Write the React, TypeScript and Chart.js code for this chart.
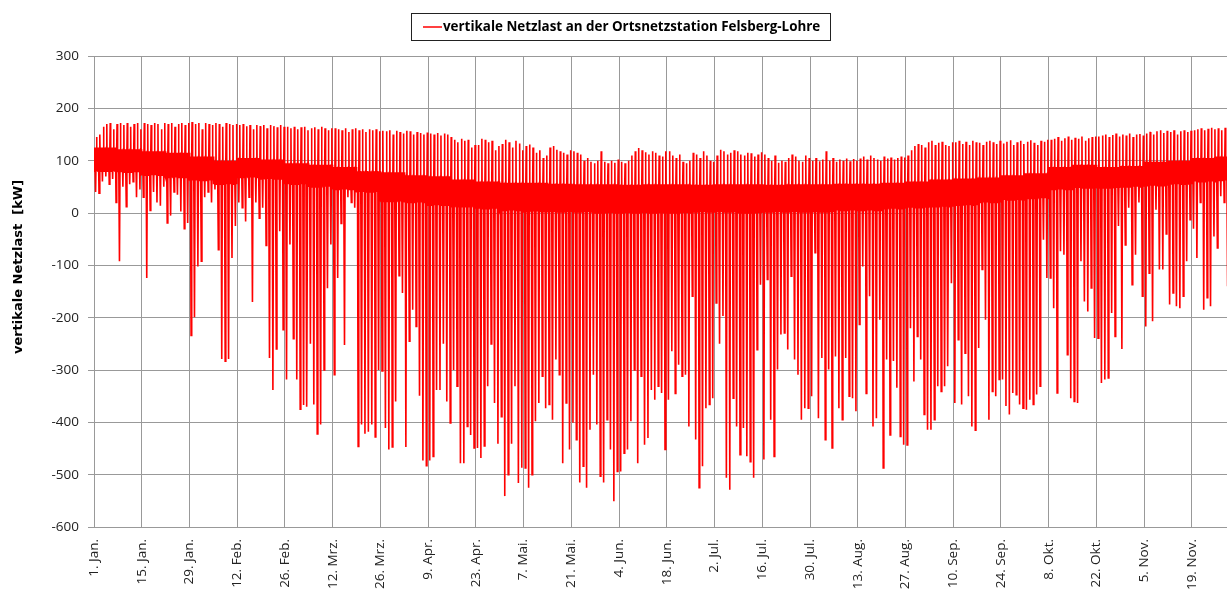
import React, { useEffect, useRef } from 'react';
import { Chart, registerables } from 'chart.js';

Chart.register(...registerables);

const seriesLabel = 'vertikale Netzlast an der Ortsnetzstation Felsberg-Lohre';
const yAxisTitle = 'vertikale Netzlast  [kW]';

// x-axis tick labels, one every 14 days starting 1 Jan
const tickLabels = [
  '1. Jan.', '15. Jan.', '29. Jan.', '12. Feb.', '26. Feb.', '12. Mrz.', '26. Mrz.', '9. Apr.',
  '23. Apr.', '7. Mai.', '21. Mai.', '4. Jun.', '18. Jun.', '2. Jul.', '16. Jul.', '30. Jul.',
  '13. Aug.', '27. Aug.', '10. Sep.', '24. Sep.', '8. Okt.', '22. Okt.', '5. Nov.', '19. Nov.',
];
const daysPerTick = 14;
const visibleDays = 332.3;

// daily minimum (midday PV feed-in) [kW], read per day
const dailyMin = [
  40, 38, 60, 70, 55, 65, 20, -92, 50, 12, 55, 60, 30, 45,
  30, -124, 5, 40, 20, 14, 50, -19, -5, 40, 35, 3, -30, -19,
  -234, -199, -102, -92, 30, 40, 20, 45, -70, -279, -283, -279, -86, -25,
  20, 10, -16, 30, -170, 20, -10, 10, -62, -277, -338, -260, -35, -223,
  -318, -60, -240, -318, -375, -367, -370, -250, -366, -422, -404, -300, -144, -60,
  -309, -124, -20, -252, 30, 20, 10, -446, -404, -422, -418, -404, -428, -300,
  -302, -411, -452, -447, -360, -120, -153, -447, -245, -185, -217, -349, -473, -483,
  -473, -465, -338, -338, -250, -360, -401, -300, -331, -478, -478, -408, -424, -449,
  -449, -468, -445, -331, -250, -363, -441, -389, -541, -500, -441, -331, -516, -487,
  -487, -525, -500, -398, -363, -312, -373, -366, -395, -280, -309, -478, -363, -452,
  -401, -433, -515, -484, -525, -414, -309, -404, -503, -515, -395, -452, -551, -494,
  -494, -459, -452, -398, -300, -478, -312, -443, -430, -338, -357, -331, -344, -452,
  -357, -264, -345, -290, -312, -309, -408, -159, -433, -525, -484, -373, -366, -354,
  -172, -250, -197, -506, -529, -354, -408, -462, -411, -465, -475, -506, -261, -137,
  -471, -127, -395, -465, -299, -232, -229, -261, -121, -280, -309, -395, -373, -373,
  -350, -76, -392, -277, -433, -299, -449, -274, -373, -395, -277, -350, -354, -379,
  -213, -102, -345, -159, -408, -392, -204, -487, -280, -424, -283, -334, -427, -443,
  -443, -220, -322, -236, -280, -385, -414, -414, -395, -331, -341, -331, -293, -134,
  -363, -242, -366, -268, -350, -408, -415, -258, -108, -204, -395, -341, -350, -318,
  -318, -369, -385, -344, -347, -366, -373, -376, -357, -366, -347, -331, -51, -124,
  -124, -182, -344, -73, -80, -271, -354, -360, -363, -92, -169, -188, -143, -239,
  -239, -325, -318, -315, -191, -236, -25, -260, -61, 10, -137, -80, 20, -159,
  -217, -115, -207, 6, -108, -108, -40, -175, -153, -178, -182, -159, -92, -13,
  -30, -86, 20, -185, -162, -178, -45, -67, 32, 20, -140, -100,
];

// daily maximum (evening peak) [kW], read per day
const dailyMax = [
  145, 150, 165, 170, 172, 160, 170, 172, 168, 172, 165, 170, 172, 160,
  172, 170, 168, 172, 170, 160, 172, 170, 172, 165, 170, 172, 168, 172,
  174, 170, 172, 160, 172, 170, 168, 172, 170, 165, 172, 170, 168, 170,
  168, 170, 166, 168, 160, 168, 166, 168, 162, 168, 166, 164, 168, 165,
  165, 162, 165, 160, 164, 165, 158, 162, 164, 160, 165, 162, 158, 162,
  162, 160, 158, 162, 155, 160, 162, 158, 160, 155, 160, 158, 160, 156,
  157, 156, 158, 150, 157, 155, 152, 157, 156, 150, 155, 153, 150, 154,
  152, 150, 153, 148, 152, 150, 145, 140, 135, 142, 138, 140, 125, 130,
  130, 142, 140, 135, 138, 120, 128, 132, 140, 135, 125, 138, 133, 120,
  128, 131, 125, 115, 120, 105, 110, 125, 128, 121, 118, 115, 112, 120,
  118, 115, 112, 100, 105, 98, 95, 100, 118, 98, 95, 100, 96, 102,
  98, 95, 100, 110, 118, 124, 120, 116, 112, 118, 115, 110, 108, 118,
  118, 110, 105, 112, 98, 95, 100, 115, 112, 105, 118, 110, 100, 98,
  110, 121, 118, 112, 115, 120, 118, 112, 110, 115, 114, 108, 112, 116,
  112, 105, 100, 110, 96, 100, 98, 105, 112, 108, 100, 98, 110, 105,
  100, 105, 99, 102, 118, 100, 105, 98, 102, 100, 104, 99, 103, 100,
  104, 108, 102, 110, 105, 102, 100, 108, 104, 106, 102, 105, 108, 106,
  110, 120, 128, 132, 130, 125, 135, 138, 130, 134, 136, 130, 128, 135,
  135, 138, 132, 136, 130, 138, 135, 134, 130, 136, 138, 135, 132, 138,
  133, 136, 139, 130, 135, 138, 132, 136, 139, 134, 130, 138, 136, 140,
  140, 142, 145, 138, 143, 146, 140, 144, 142, 146, 138, 143, 145, 146,
  146, 148, 150, 145, 149, 152, 146, 150, 148, 152, 145, 150, 151, 148,
  152, 155, 150, 156, 158, 153, 157, 155, 158, 150, 156, 158, 155, 157,
  158, 160, 162, 158, 161, 163, 160, 162, 158, 163, 160, 162,
];

// weekly base band of the load (upper / lower edge of the dense core) [kW]
const weeklyCoreHigh = [
  125, 122, 118, 115, 108, 100, 105, 102, 95, 92, 88, 80,
  78, 72, 70, 64, 60, 58, 58, 56, 55, 55, 54, 55,
  55, 54, 55, 55, 54, 55, 55, 56, 56, 58, 60, 64,
  66, 68, 72, 76, 88, 92, 88, 90, 98, 100, 105, 108,
];
const weeklyCoreLow = [
  80, 78, 72, 68, 62, 55, 68, 65, 55, 50, 45, 40,
  22, 20, 15, 12, 8, 5, 3, 2, 2, 0, 0, 0,
  0, 2, 2, 0, 2, 2, 2, 5, 5, 8, 10, 12,
  15, 20, 25, 28, 45, 48, 48, 50, 52, 55, 60, 62,
];

// hour of day of each point of the daily load shape
const profileHours = [0, 2.4, 4.3, 6.7, 11.3, 15.8, 18.2, 20.6, 22.3];

const tickFont = { family: "'Open Sans', 'Noto Sans', sans-serif", size: 13.5 };

export default function App() {
  const canvasRef = useRef<HTMLCanvasElement>(null);

  useEffect(() => {
    const canvas = canvasRef.current;
    if (!canvas) return;

    const points: { x: number; y: number }[] = [];
    dailyMin.forEach((minV, d) => {
      const w = Math.floor(d / 7);
      const lo = weeklyCoreLow[w];
      const hi = weeklyCoreHigh[w];
      const profile = [lo, hi, lo, hi, minV, hi, dailyMax[d], lo, hi];
      profile.forEach((v, k) => points.push({ x: d + profileHours[k] / 24, y: v }));
    });

    const frame = {
      id: 'frameTexts',
      afterDraw(chart: any) {
        const ctx = chart.ctx as CanvasRenderingContext2D;
        ctx.save();
        // legend box
        ctx.strokeStyle = '#222';
        ctx.lineWidth = 1;
        ctx.strokeRect(411.5, 13.5, 419, 27);
        ctx.strokeStyle = '#ff0000';
        ctx.lineWidth = 1.5;
        ctx.beginPath();
        ctx.moveTo(423, 27);
        ctx.lineTo(442, 27);
        ctx.stroke();
        ctx.fillStyle = '#000';
        ctx.font = "bold 13.4px 'Open Sans', sans-serif";
        ctx.textBaseline = 'middle';
        ctx.textAlign = 'left';
        ctx.fillText(chart.data.datasets[0].label, 443, 27.5);
        // y-axis title
        ctx.translate(19, 267);
        ctx.rotate(-Math.PI / 2);
        ctx.font = "bold 13px 'DejaVu Sans', sans-serif";
        ctx.textAlign = 'center';
        ctx.fillText(yAxisTitle, 0, 0);
        ctx.restore();
      },
    };

    const chart = new Chart(canvas, {
      type: 'line',
      data: {
        datasets: [
          {
            label: seriesLabel,
            data: points,
            borderColor: '#ff0000',
            backgroundColor: '#ff0000',
            borderWidth: 1.6,
            pointRadius: 0,
            tension: 0,
            fill: false,
          },
        ],
      },
      options: {
        animation: false,
        responsive: false,
        devicePixelRatio: 1,
        layout: { padding: { top: 56, left: 0, right: 0, bottom: 0 } },
        plugins: { legend: { display: false }, tooltip: { enabled: false } },
        scales: {
          x: {
            type: 'linear',
            min: 0,
            max: visibleDays,
            afterFit(scale: any) {
              scale.height = 65;
            },
            afterBuildTicks(scale: any) {
              scale.ticks = tickLabels.map((_, i) => ({ value: i * daysPerTick }));
            },
            ticks: {
              autoSkip: false,
              minRotation: 90,
              maxRotation: 90,
              padding: 12,
              color: '#222',
              font: tickFont,
              callback: (_v: any, i: number) => tickLabels[i],
            },
            grid: { color: '#999', lineWidth: 1, drawTicks: false },
            border: { color: '#999' },
          },
          y: {
            min: -600,
            max: 300,
            afterFit(scale: any) {
              scale.width = 94;
            },
            ticks: {
              stepSize: 100,
              padding: 9,
              color: '#222',
              font: tickFont,
              callback: (v: any) => String(v),
            },
            grid: { color: '#999', lineWidth: 1, tickLength: 6 },
            border: { color: '#999' },
          },
        },
      },
      plugins: [frame],
    });

    return () => chart.destroy();
  }, []);

  return (
    <div
      style={{
        position: 'fixed',
        left: 0,
        top: 0,
        width: 1227,
        height: 592,
        overflow: 'hidden',
        background: '#fff',
      }}
    >
      <canvas ref={canvasRef} width={1227} height={592} style={{ display: 'block' }} />
    </div>
  );
}
